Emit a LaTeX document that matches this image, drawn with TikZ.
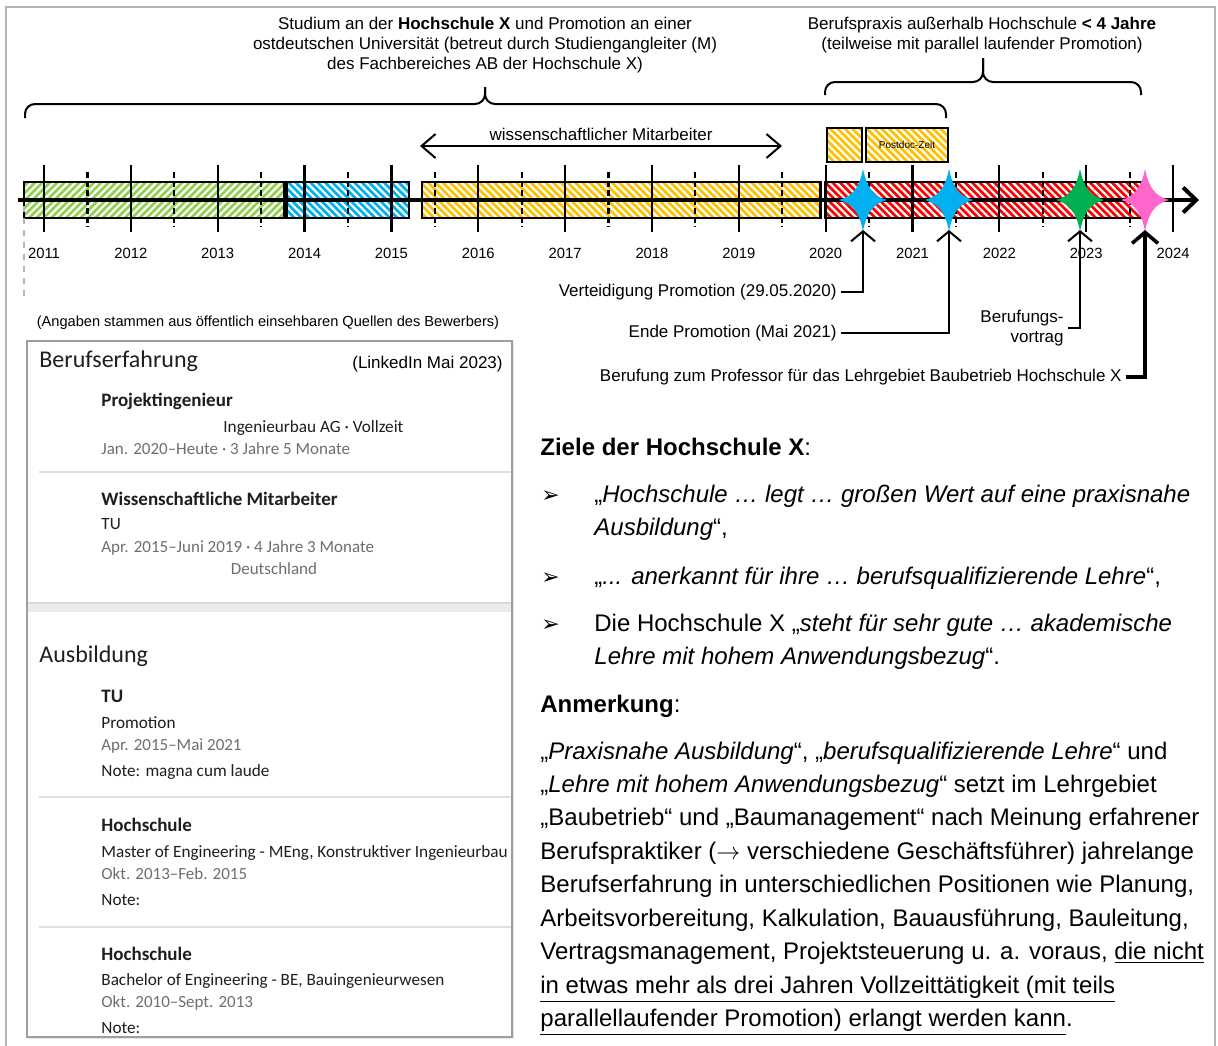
\documentclass[tikz,border=0pt]{standalone}
\usepackage{fontspec}
\setmainfont{Liberation Sans}
\newfontfamily\lnfont{Carlito}
\newfontfamily\dingfont{DejaVu Sans}
\usetikzlibrary{arrows.meta}
\usetikzlibrary{patterns.meta}
\usetikzlibrary{calc, math}
\definecolor{mygreen}{HTML}{92D050}
\definecolor{myblue}{HTML}{00B0F0}
\definecolor{myyellow}{HTML}{FFC000}
\definecolor{myred}{HTML}{FF0000}
\definecolor{mystargreen}{HTML}{00B050}
\definecolor{mypink}{HTML}{FF66CC}
\definecolor{myframe}{HTML}{B4B4B4}
\definecolor{lngray}{HTML}{6E6E6E}
\definecolor{lnblack}{HTML}{1E1E1E}

\begin{document}
\begin{tikzpicture}[x=0.5pt,y=-0.5pt,
  every node/.style={inner sep=0pt},
  tlfont/.style={font=\fontsize{8.5}{10}\selectfont},
  yrfont/.style={font=\fontsize{7.4}{8.8}\selectfont},
  lbl/.style={tlfont, anchor=east, inner xsep=2pt},
  hatch/.style 2 args={preaction={fill=#1}, pattern={Lines[angle=#2,distance=2.6pt,line width=1.1pt]}, pattern color=white, draw=black, line width=1.2pt},
  brace/.style={line width=1pt, rounded corners=5pt},
  conn/.style={line width=1pt, -{Straight Barb[length=5pt,width=12pt]}},
  fourstar/.pic={\fill[pic actions] (0,-31) .. controls (4,-12) and (10,-4) .. (24,0) .. controls (10,4) and (4,12) .. (0,31) .. controls (-4,12) and (-10,4) .. (-24,0) .. controls (-10,-4) and (-4,-12) .. cycle;},
  lnhead/.style={anchor=mid west, font=\lnfont\fontsize{12}{14}\selectfont, text=lnblack},
  lntitle/.style={anchor=mid west, font=\lnfont\bfseries\fontsize{9.5}{11}\selectfont, text=lnblack},
  lnsub/.style={anchor=mid west, font=\lnfont\fontsize{8.6}{10}\selectfont, text=lnblack},
  lndate/.style={anchor=mid west, font=\lnfont\fontsize{8.5}{10}\selectfont, text=lngray},
  lnrule/.style={black!12, line width=0.7pt},
  body/.style={anchor=mid west, font=\fontsize{12}{14}\selectfont},
  bullet/.style={anchor=mid west, font=\dingfont\fontsize{11}{12}\selectfont}]
\tikzmath{
\xo=44;     % x of 2011
\dy=86.85;  % one year
\yax=200;   % axis
}
\useasboundingbox (0,0) rectangle (1218,1045);
\fill[white] (0,0) rectangle (1218,1045);
\draw[myframe, line width=1pt] (6,1100) -- (6,7) -- (1215,7) -- (1215,1100);

%texts and braces on top
\node[tlfont, align=center] (studtext) at (485,45) {Studium an der \textbf{Hochschule X} und Promotion an einer\\ostdeutschen Universität (betreut durch Studiengangleiter (M)\\des Fachbereiches AB der Hochschule X)};
\node[tlfont, align=center] (praxtext) at (982,35) {Berufspraxis außerhalb Hochschule \textbf{< 4 Jahre}\\(teilweise mit parallel laufender Promotion)};
\coordinate (Bs) at (485,87);
\coordinate (Bp) at (983,58);
\draw[brace] (25,118) |- (485,104) -- (Bs);
\draw[brace] (946,118) |- (485,104) -- (Bs);
\draw[brace] (825,95) |- (983,82) -- (Bp);
\draw[brace] (1141,95) |- (983,82) -- (Bp);

\node[tlfont] (wisstext) at (601,134) {wissenschaftlicher Mitarbeiter};
\coordinate (W1) at (420,146);
\coordinate (W2) at (782,146);
\draw[line width=1pt, {Straight Barb[length=7pt,width=12pt]}-{Straight Barb[length=7pt,width=12pt]}] (W1) -- (W2);

%small boxes
\draw[hatch={myyellow}{-45}] (827,128) rectangle (862,162);
\draw[hatch={myyellow}{-45}] (866,128) rectangle (948,162);
\node[font=\fontsize{5}{6}\selectfont] (postdoc) at (907,145) {Postdoc-Zeit};

%bars on the time axis
\draw[hatch={mygreen}{45}] ({\xo+(2010.77-2011)*\dy},182) rectangle ({\xo+(2013.77-2011)*\dy},218);
\draw[hatch={myblue}{-45}] ({\xo+(2013.8-2011)*\dy},182) rectangle ({\xo+(2015.2-2011)*\dy},218);
\draw[hatch={myyellow}{-45}] ({\xo+(2015.35-2011)*\dy},182) rectangle ({\xo+(2019.94-2011)*\dy},218);
\draw[hatch={myred}{-45}] ({\xo+(2020-2011)*\dy},182) rectangle ({\xo+(2023.67-2011)*\dy},218);

%axis
\draw[myframe, line width=1pt, dashed] (24,206) -- (24,300);
\draw[line width=2pt, -{Straight Barb[length=6.5pt,width=12.5pt]}] (18,\yax) -- (1199,\yax);
\foreach \i in {0,...,13}
  \draw[line width=1.1pt] ({\xo+\i*\dy},165) -- ({\xo+\i*\dy},232);
\foreach \i in {0,...,12}
  \draw[line width=1.1pt, dash pattern=on 3pt off 1.5pt] ({\xo+(\i+0.5)*\dy},172) -- ({\xo+(\i+0.5)*\dy},227);
\foreach \i in {0,...,13}{
  \pgfmathtruncatemacro\yr{2011+\i}
  \node[yrfont] (y\yr) at ({\xo+\i*\dy},253) {\yr};
}

%events
\coordinate (s1) at (863,\yax);
\coordinate (s2) at (949,\yax);
\coordinate (s3) at (1080,\yax);
\coordinate (s4) at (1145,\yax);
\pic[fill=myblue] at (s1) {fourstar};
\pic[fill=myblue] at (s2) {fourstar};
\pic[fill=mystargreen] at (s3) {fourstar};
\pic[fill=mypink] at (s4) {fourstar};
\coordinate (s1b) at (863,230);
\coordinate (s2b) at (949,230);
\coordinate (s3b) at (1080,230);
\coordinate (s4b) at (1145,230);

\node[lbl] (lblA) at (841,292) {Verteidigung Promotion (29.05.2020)};
\node[lbl] (lblB) at (841,333) {Ende Promotion (Mai 2021)};
\node[lbl, align=right] (lblC) at (1068,328) {Berufungs-\\vortrag};
\node[lbl] (lblD) at (1126,377) {Berufung zum Professor für das Lehrgebiet Baubetrieb Hochschule X};
\draw[conn] (lblA.east) -| (s1b);
\draw[conn] (lblB.east) -| (s2b);
\draw[conn] (lblC.east) -| (s3b);
\draw[conn, line width=1.8pt, -{Straight Barb[length=5.5pt,width=13pt]}] (lblD.east) -| (s4b);

%linkedin panel
\node[yrfont, font=\fontsize{7.3}{8.8}\selectfont] (source) at (268,323) {(Angaben stammen aus öffentlich einsehbaren Quellen des Bewerbers)};
\fill[black!10] (29,343) rectangle (514,1039);
\fill[white] (27,341) rectangle (512,1037);
\begin{scope}
\clip (27,341) rectangle (511,1037);
\node[lnhead] (bfhead) at (39,362) {Berufserfahrung};
\node[tlfont, anchor=mid east] (lisrc) at (503,363) {(LinkedIn Mai 2023)};
\node[lntitle] (job1) at (101,401) {Projektingenieur};
\node[lnsub] (job1co) at (223,427) {Ingenieurbau AG · Vollzeit};
\node[lndate] (job1dt) at (101,449) {Jan. 2020–Heute · 3 Jahre 5 Monate};
\draw[lnrule] (39,472) -- (512,472);
\node[lntitle] (job2) at (101,500) {Wissenschaftliche Mitarbeiter};
\node[lnsub] (job2co) at (101,524) {TU};
\node[lndate] (job2dt) at (101,547) {Apr. 2015–Juni 2019 · 4 Jahre 3 Monate};
\node[lndate, anchor=mid] (job2loc) at (274,569) {Deutschland};
\fill[black!8] (27,603) rectangle (512,612);
\draw[black!15, line width=0.6pt] (27,603) -- (512,603);
\node[lnhead] (edhead) at (39,657) {Ausbildung};
\node[lntitle] (ed1) at (101,697) {TU};
\node[lnsub] (ed1deg) at (101,723) {Promotion};
\node[lndate] (ed1dt) at (101,745) {Apr. 2015–Mai 2021};
\node[lnsub] (ed1note) at (101,771) {Note: magna cum laude};
\draw[lnrule] (39,797) -- (512,797);
\node[lntitle] (ed2) at (101,826) {Hochschule};
\node[lnsub] (ed2deg) at (101,852) {Master of Engineering - MEng, Konstruktiver Ingenieurbau};
\node[lndate] (ed2dt) at (101,874) {Okt. 2013–Feb. 2015};
\node[lnsub] (ed2note) at (101,900) {Note:};
\draw[lnrule] (39,927) -- (512,927);
\node[lntitle] (ed3) at (101,955) {Hochschule};
\node[lnsub] (ed3deg) at (101,980) {Bachelor of Engineering - BE, Bauingenieurwesen};
\node[lndate] (ed3dt) at (101,1002) {Okt. 2010–Sept. 2013};
\node[lnsub] (ed3note) at (101,1028) {Note:};
\end{scope}
\draw[black!38, line width=0.8pt] (27,341) rectangle (512,1037);

%goals
\node[body] (goals) at (540,450) {\textbf{Ziele der Hochschule X}:};
\node[bullet] (b1) at (541,497) {➢};
\node[body] (g1a) at (594,497) {„\textit{Hochschule … legt … großen Wert auf eine praxisnahe}};
\node[body] (g1b) at (594,530) {\textit{Ausbildung}“,};
\node[bullet] (b2) at (541,579) {➢};
\node[body] (g2) at (594,579) {„\textit{... anerkannt für ihre … berufsqualifizierende Lehre}“,};
\node[bullet] (b3) at (541,626) {➢};
\node[body] (g3a) at (594,626) {Die Hochschule X „\textit{steht für sehr gute … akademische}};
\node[body] (g3b) at (594,659) {\textit{Lehre mit hohem Anwendungsbezug}“.};

%remark
\node[body] (remark) at (540,707) {\textbf{Anmerkung}:};
\node[body] (r1) at (540,754) {„\textit{Praxisnahe Ausbildung}“, „\textit{berufsqualifizierende Lehre}“ und};
\node[body] (r2) at (540,787) {„\textit{Lehre mit hohem Anwendungsbezug}“ setzt im Lehrgebiet};
\node[body] (r3) at (540,820) {„Baubetrieb“ und „Baumanagement“ nach Meinung erfahrener};
\node[body] (r4) at (540,854) {Berufspraktiker ($\rightarrow$ verschiedene Geschäftsführer) jahrelange};
\node[body] (r5) at (540,887) {Berufserfahrung in unterschiedlichen Positionen wie Planung,};
\node[body] (r6) at (540,921) {Arbeitsvorbereitung, Kalkulation, Bauausführung, Bauleitung,};
\node[body] (r7) at (540,954) {Vertragsmanagement, Projektsteuerung u. a. voraus, \underline{die nicht}};
\node[body] (r8) at (540,988) {\underline{in etwas mehr als drei Jahren Vollzeittätigkeit (mit teils}};
\node[body] (r9) at (540,1021) {\underline{parallellaufender Promotion) erlangt werden kann}.};
\end{tikzpicture}
\end{document}
